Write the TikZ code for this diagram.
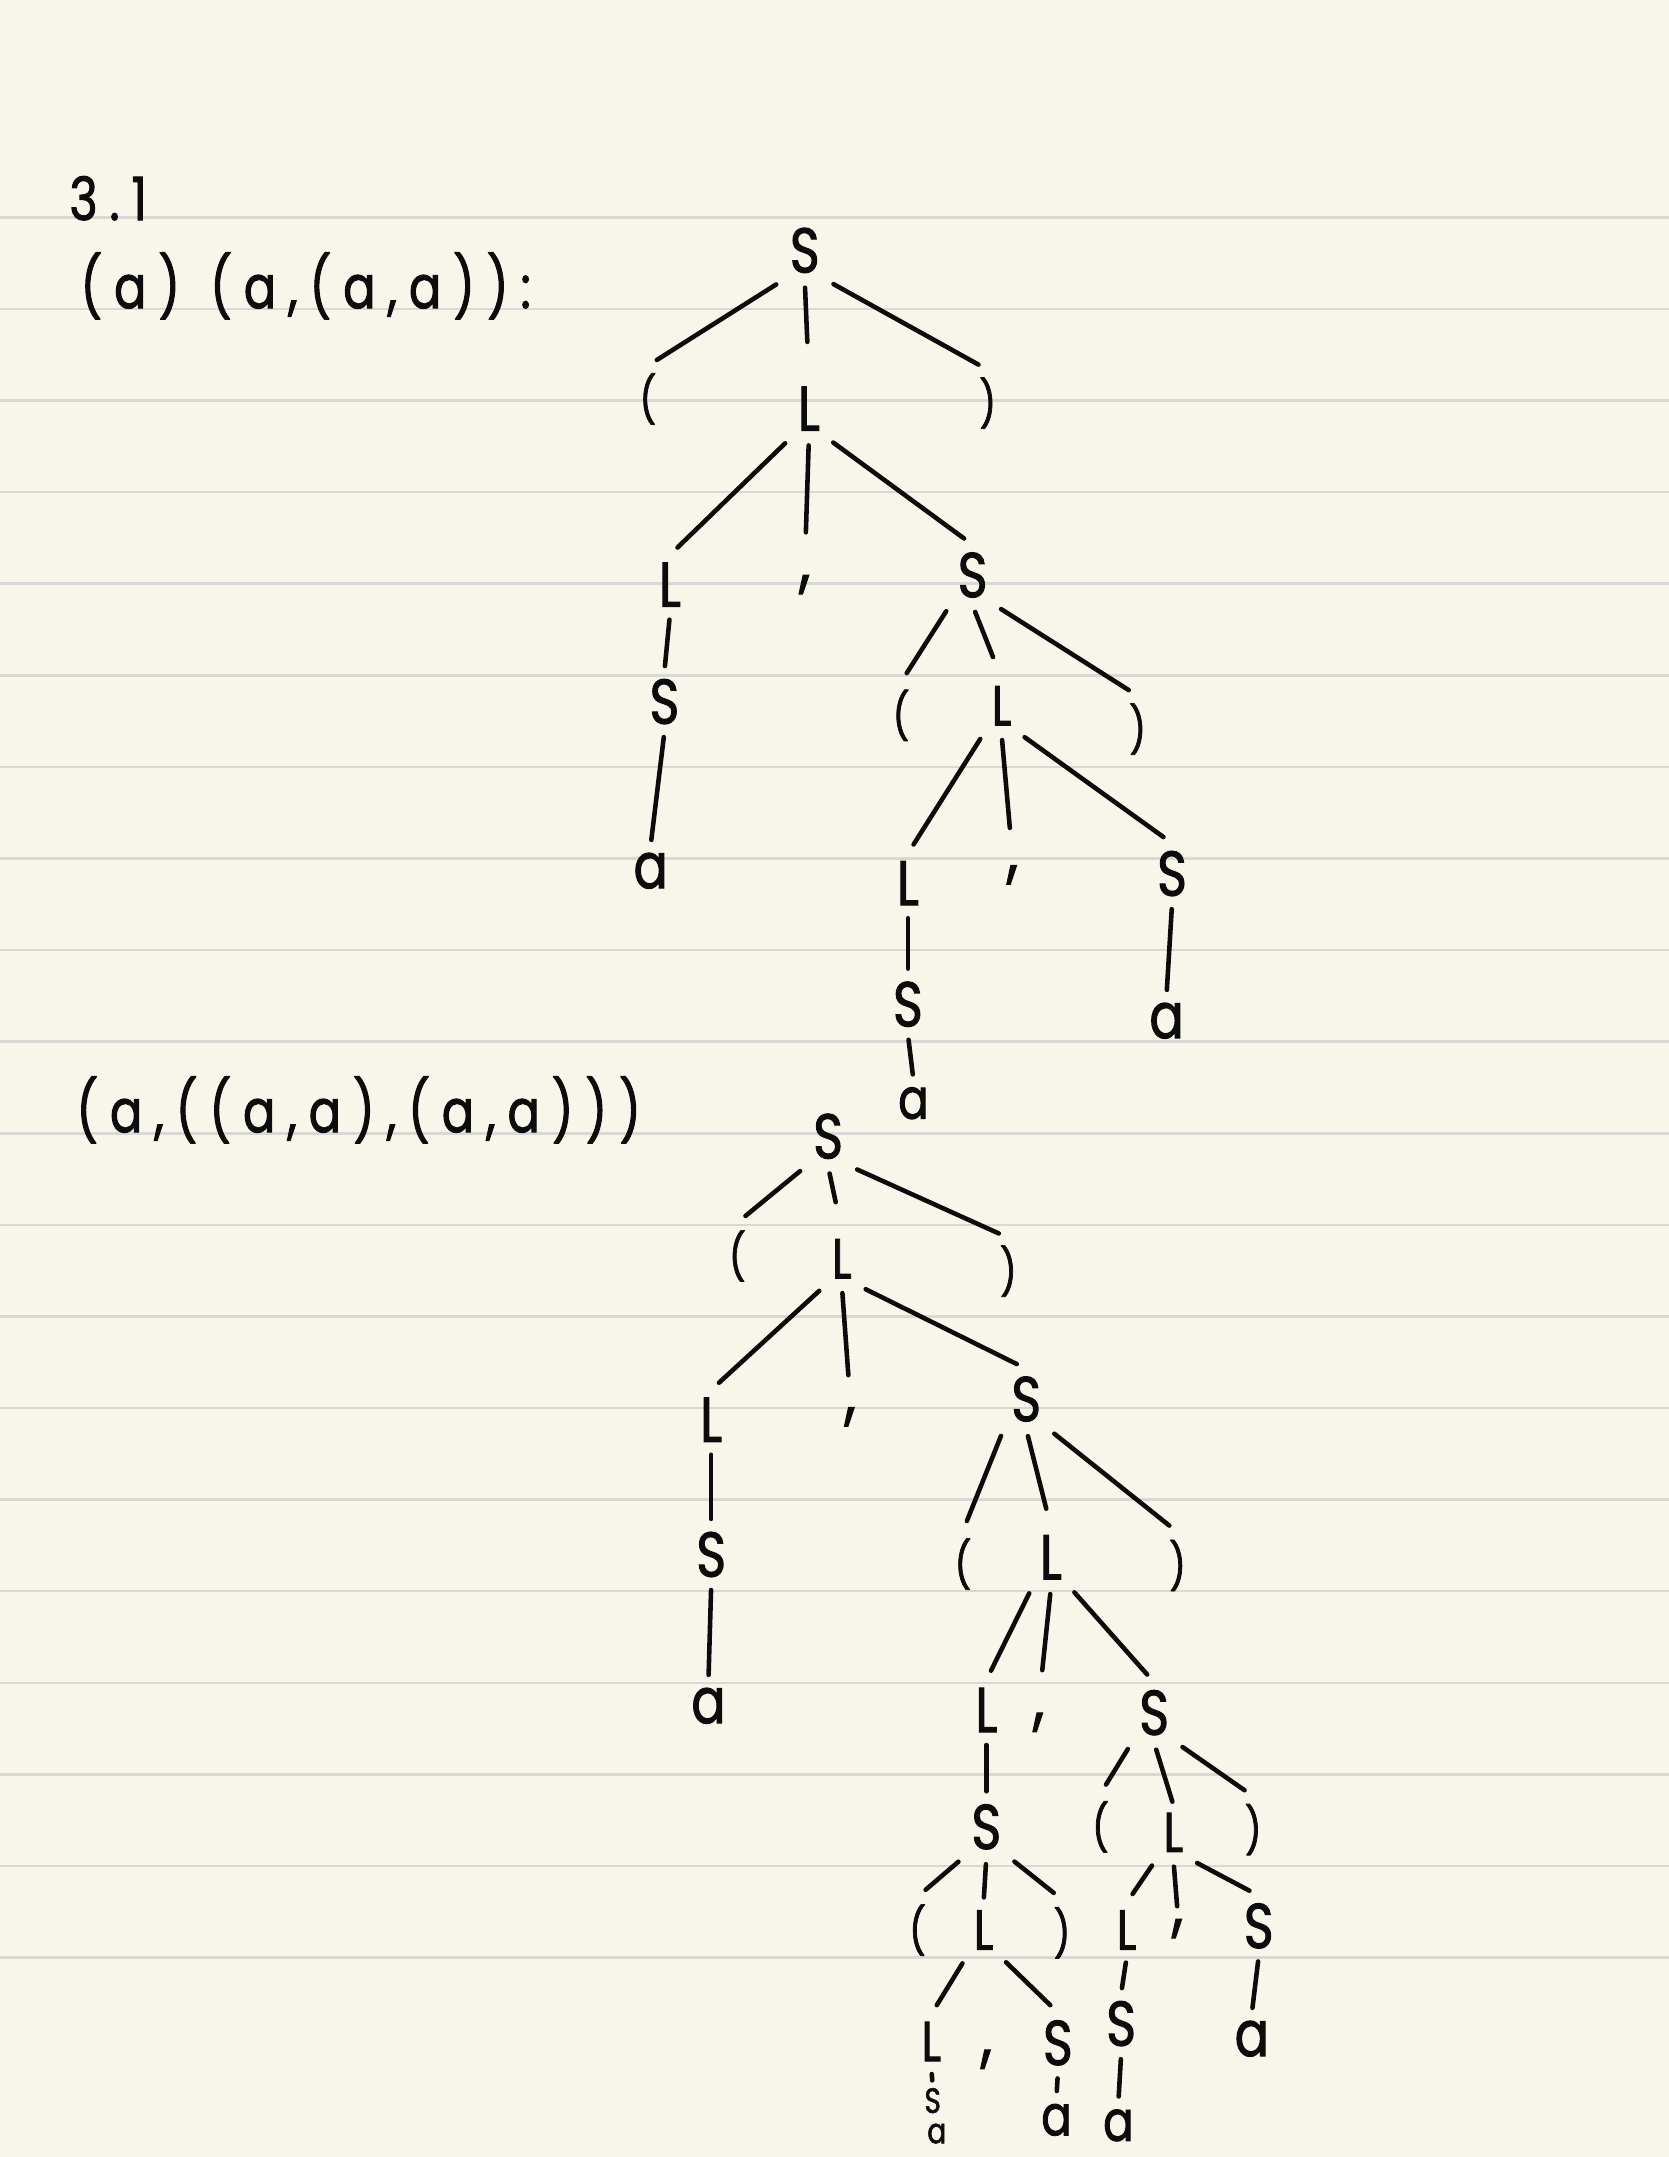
\documentclass[tikz,border=0pt]{standalone}
\usepackage{fontspec}
\setmainfont{Poppins}[FakeStretch=0.8,FakeBold=1.6]

\definecolor{paper}{RGB}{248,246,235}
\definecolor{ruling}{RGB}{216,216,212}
\definecolor{ink}{RGB}{12,12,12}

\tikzset{
  sym/.style={inner sep=2pt,text=ink,font=\fontsize{18}{18}\selectfont},
  symsm/.style={sym,font=\fontsize{16}{16}\selectfont},
  symxs/.style={sym,inner sep=0.5pt,font=\fontsize{10}{10}\selectfont},
  brack/.style={sym,font=\fontsize{13}{13}\selectfont},
  comma/.style={sym,font=\fontsize{20}{20}\selectfont},
  branch/.style={draw=ink,line width=1.3pt,line cap=round,shorten <=2pt,shorten >=3pt},
  stem/.style={branch,shorten <=1.5pt,shorten >=1.5pt},
  ruleline/.style={draw=ruling,line width=0.7pt},
  note/.style={anchor=base west,inner sep=0pt,text=ink,
               font=\fontsize{17}{17}\selectfont\addfontfeatures{LetterSpace=20}}
}

\begin{document}
\begin{tikzpicture}[x=0.01375cm,y=-0.01375cm]
  \useasboundingbox (0,0) rectangle (1213,1568);
  \fill[paper] (0,0) rectangle (1213,1568);
  % ruled paper
  \foreach \k in {0,...,19}
    \draw[ruleline] (0,{158+66.58*\k}) -- (1213,{158+66.58*\k});

  \node[note] (title) at (50,160) {3.1};
  \node[note] (parta) at (58,224) {(a)\hspace{0.3cm}(a,(a,a))\hspace{0.12cm}:};
  \node[note] (partb) at (55,823) {(a,((a,a),(a,a)))};

  % tree for (a,(a,a))
  \node[sym] (A) at (585,182) {S};
  \node[brack] (A1) at (471,290) {(};
  \node[sym] (A2) at (588,297) {L};
  \node[brack] (A3) at (718,293) {)};
  \node[sym] (A21) at (487,425) {L};
  \node[comma] (A22) at (585,425) {,};
  \node[sym] (A23) at (707,418) {S};
  \node[sym] (A211) at (483,510) {S};
  \node[sym] (A2111) at (473,633) {a};
  \node[brack] (A231) at (655,520) {(};
  \node[symsm] (A232) at (728,513) {L};
  \node[brack] (A233) at (827,530) {)};
  \node[sym] (A2321) at (660,642) {L};
  \node[comma] (A2322) at (736,636) {,};
  \node[sym] (A2323) at (852,635) {S};
  \node[sym] (A23211) at (660,730) {S};
  \node[symsm] (A232111) at (664,802) {a};
  \node[sym] (A23231) at (848,742) {a};

  \foreach \p/\a/\c in {A/south west/A1,A/south east/A3,
      A2/south west/A21,A2/south east/A23,
      A23/south west/A231,A23/south east/A233,
      A232/south west/A2321,A232/south east/A2323}
    \draw[branch] (\p.\a) -- (\c.north);
  \foreach \p/\c/\g in {A/A2/10.5pt,A2/A22/10pt,A23/A232/6.5pt,A232/A2322/8.5pt}
    \draw[branch,shorten >=\g] (\p.south) -- (\c.north);
  \foreach \p/\c in {A21/A211,A211/A2111,A2321/A23211,A23211/A232111,A2323/A23231}
    \draw[stem] (\p.south) -- (\c.north);

  % tree for (a,((a,a),(a,a)))
  \node[sym] (B) at (602,826) {S};
  \node[brack] (B1) at (536,913) {(};
  \node[symsm] (B2) at (612,915) {L};
  \node[brack] (B3) at (733,924) {)};
  \node[sym] (B21) at (517,1032) {L};
  \node[comma] (B22) at (618,1030) {,};
  \node[sym] (B23) at (746,1017) {S};
  \node[sym] (B211) at (517,1130) {S};
  \node[sym] (B2111) at (515,1240) {a};
  \node[brack] (B231) at (700,1137) {(};
  \node[sym] (B232) at (764,1132) {L};
  \node[brack] (B233) at (856,1138) {)};
  \node[sym] (B2321) at (717,1243) {L};
  \node[comma] (B2322) at (755,1252) {,};
  \node[sym] (B2323) at (839,1245) {S};
  \node[sym] (B23211) at (717,1328) {S};
  \node[brack] (B232111) at (667,1403) {(};
  \node[symsm] (B232112) at (715,1403) {L};
  \node[brack] (B232113) at (772,1405) {)};
  \node[symsm] (B2321121) at (677,1484) {L};
  \node[comma] (B2321122) at (717,1497) {,};
  \node[sym] (B2321123) at (769,1485) {S};
  \node[symxs] (B23211211) at (678,1527) {S};
  \node[symxs] (B232112111) at (681,1551) {a};
  \node[symsm] (B23211231) at (768,1541) {a};
  \node[brack] (B23231) at (800,1328) {(};
  \node[symsm] (B23232) at (853,1332) {L};
  \node[brack] (B23233) at (911,1330) {)};
  \node[symsm] (B232321) at (819,1403) {L};
  \node[comma] (B232322) at (856,1402) {,};
  \node[sym] (B232323) at (915,1400) {S};
  \node[sym] (B2323211) at (815,1471) {S};
  \node[symsm] (B23232111) at (813,1545) {a};
  \node[sym] (B2323231) at (910,1482) {a};

  \foreach \p/\a/\c in {B/south west/B1,B/south east/B3,
      B2/south west/B21,B2/south east/B23,
      B23/south west/B231,B23/south east/B233,
      B232/south west/B2321,B232/south east/B2323,
      B23211/south west/B232111,B23211/south east/B232113,
      B232112/south west/B2321121,B232112/south east/B2321123,
      B2323/south west/B23231,B2323/south east/B23233,
      B23232/south west/B232321,B23232/south east/B232323}
    \draw[branch] (\p.\a) -- (\c.north);
  \foreach \p/\c/\g in {B/B2/8.5pt,B2/B22/7pt,B23/B232/5.5pt,B232/B2322/10pt,
      B23211/B232112/1.5pt,B2323/B23232/1pt,B23232/B232322/1.5pt}
    \draw[branch,shorten >=\g] (\p.south) -- (\c.north);
  \foreach \p/\c in {B21/B211,B211/B2111,B2321/B23211,B2321121/B23211211,
      B2321123/B23211231,B232321/B2323211,B2323211/B23232111,B232323/B2323231}
    \draw[stem] (\p.south) -- (\c.north);
\end{tikzpicture}
\end{document}
